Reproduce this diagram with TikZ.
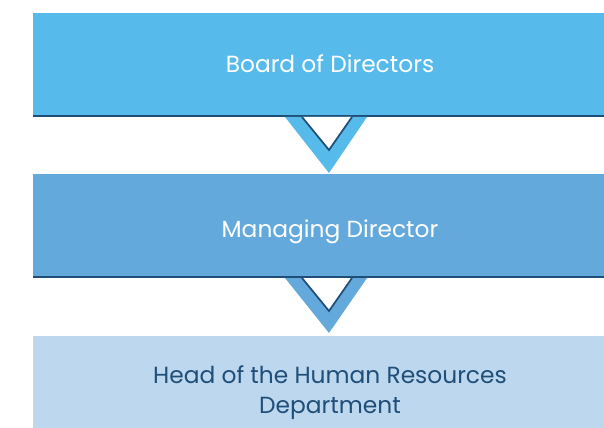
\documentclass[tikz,border=0pt]{standalone}
\usepackage{fontspec}
\setmainfont{Poppins}
\usetikzlibrary{positioning}

\definecolor{boardblue}{HTML}{56BBEB}
\definecolor{mdblue}{HTML}{63A9DC}
\definecolor{hrblue}{HTML}{BDD7EE}
\definecolor{edgeblue}{HTML}{1F4E79}

\begin{document}
\begin{tikzpicture}[x=0.75pt,y=-0.75pt]

\tikzset{
  level box/.style={
    minimum width=571*0.75pt,
    inner sep=0pt,
    outer sep=0pt,
  },
  level text/.style={
    align=center,
    font=\fontsize{17.5}{22.5}\selectfont,
  }
}

\useasboundingbox (0,0) rectangle (604,428);

% Level 0
\node[level box, fill=boardblue, minimum height=103*0.75pt] (board) at (318.5,64.5) {};
\node[level text, text=white] (boardtxt) at (330,63.5) {Board of Directors};

% Level 1
\node[level box, fill=mdblue, minimum height=103*0.75pt] (md) at (318.5,225.5) {};
\node[level text, text=white] (mdtxt) at (330,232) {Managing Director};

% Level 2 (runs off the bottom)
\node[level box, fill=hrblue, minimum height=108*0.75pt] (hr) at (318.5,390) {};
\node[level text, text=edgeblue] (hrtxt) at (330,393) {Head of the Human Resources\\Department};

% Bottom edges
\draw[edgeblue, line width=1.5pt] (board.south west) -- (board.south east);
\draw[edgeblue, line width=1.5pt] (md.south west) -- (md.south east);

% Chevrons
\coordinate (tipa) at (329,173);
\coordinate (tipb) at (329,333);

\fill[boardblue] (285,117) -- (367,117) -- (tipa) -- cycle;
\fill[white] (302,117) -- (352,117) -- (329,150) -- cycle;
\draw[edgeblue, line width=1.3pt, line join=miter] (302,117) -- (329,150) -- (352,117);

\fill[mdblue] (285,278) -- (367,278) -- (tipb) -- cycle;
\fill[white] (302,278) -- (352,278) -- (329,311) -- cycle;
\draw[edgeblue, line width=1.3pt, line join=miter] (302,278) -- (329,311) -- (352,278);

\end{tikzpicture}
\end{document}
